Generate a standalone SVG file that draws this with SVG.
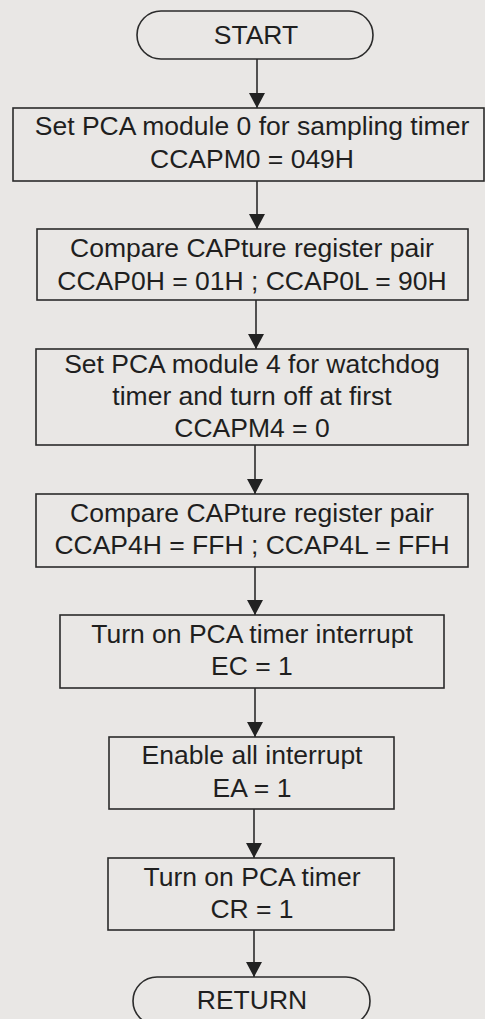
<svg xmlns="http://www.w3.org/2000/svg" width="485" height="1019" viewBox="0 0 485 1019">
  <style>
    .bg { fill: #e9e7e5; }
    .node rect { fill: none; stroke: #2b2b2b; stroke-width: 1.6; }
    .node text { font-family: "Liberation Sans", Arial, sans-serif; font-size: 26.5px; fill: #1f1f1f; text-anchor: middle; }
    .conn line { stroke: #2b2b2b; stroke-width: 1.6; }
  </style>
  <defs>
    <marker id="arrow" markerUnits="userSpaceOnUse" markerWidth="16" markerHeight="16" refX="15" refY="8" orient="auto">
      <path d="M0,0 L15,8 L0,16 Z" fill="#222"/>
    </marker>
  </defs>
  <rect class="bg" x="0" y="0" width="485" height="1019"/>

  <g class="conn">
    <line x1="257" y1="59" x2="257" y2="108" marker-end="url(#arrow)"/>
    <line x1="257" y1="181" x2="257" y2="229" marker-end="url(#arrow)"/>
    <line x1="256" y1="300" x2="256" y2="349" marker-end="url(#arrow)"/>
    <line x1="255" y1="445" x2="255" y2="494" marker-end="url(#arrow)"/>
    <line x1="255" y1="567" x2="255" y2="615" marker-end="url(#arrow)"/>
    <line x1="255" y1="688" x2="255" y2="737" marker-end="url(#arrow)"/>
    <line x1="254" y1="809" x2="254" y2="858" marker-end="url(#arrow)"/>
    <line x1="254" y1="930" x2="254" y2="977" marker-end="url(#arrow)"/>
  </g>

  <g id="start" class="node">
    <rect x="137" y="11" width="236" height="48" rx="24" ry="24"/>
    <text x="256" y="44">START</text>
  </g>
  <g id="step1" class="node">
    <rect x="13" y="108" width="471" height="73"/>
    <text x="252" y="135">Set PCA module 0 for sampling timer</text>
    <text x="252" y="168">CCAPM0 = 049H</text>
  </g>
  <g id="step2" class="node">
    <rect x="37" y="229" width="431" height="71"/>
    <text x="252" y="257">Compare CAPture register pair</text>
    <text x="252" y="290">CCAP0H = 01H ; CCAP0L = 90H</text>
  </g>
  <g id="step3" class="node">
    <rect x="36" y="349" width="432" height="96"/>
    <text x="252" y="373">Set PCA module 4 for watchdog</text>
    <text x="252" y="405">timer and turn off at first</text>
    <text x="252" y="437">CCAPM4 = 0</text>
  </g>
  <g id="step4" class="node">
    <rect x="36" y="494" width="432" height="73"/>
    <text x="252" y="522">Compare CAPture register pair</text>
    <text x="252" y="554">CCAP4H = FFH ; CCAP4L = FFH</text>
  </g>
  <g id="step5" class="node">
    <rect x="60" y="615" width="384" height="73"/>
    <text x="252" y="643">Turn on PCA timer interrupt</text>
    <text x="252" y="675">EC = 1</text>
  </g>
  <g id="step6" class="node">
    <rect x="109" y="737" width="285" height="72"/>
    <text x="252" y="764">Enable all interrupt</text>
    <text x="252" y="797">EA = 1</text>
  </g>
  <g id="step7" class="node">
    <rect x="108" y="858" width="286" height="72"/>
    <text x="252" y="886">Turn on PCA timer</text>
    <text x="252" y="918">CR = 1</text>
  </g>
  <g id="return" class="node">
    <rect x="133" y="977" width="237" height="48" rx="24" ry="24"/>
    <text x="252" y="1009">RETURN</text>
  </g>
</svg>
